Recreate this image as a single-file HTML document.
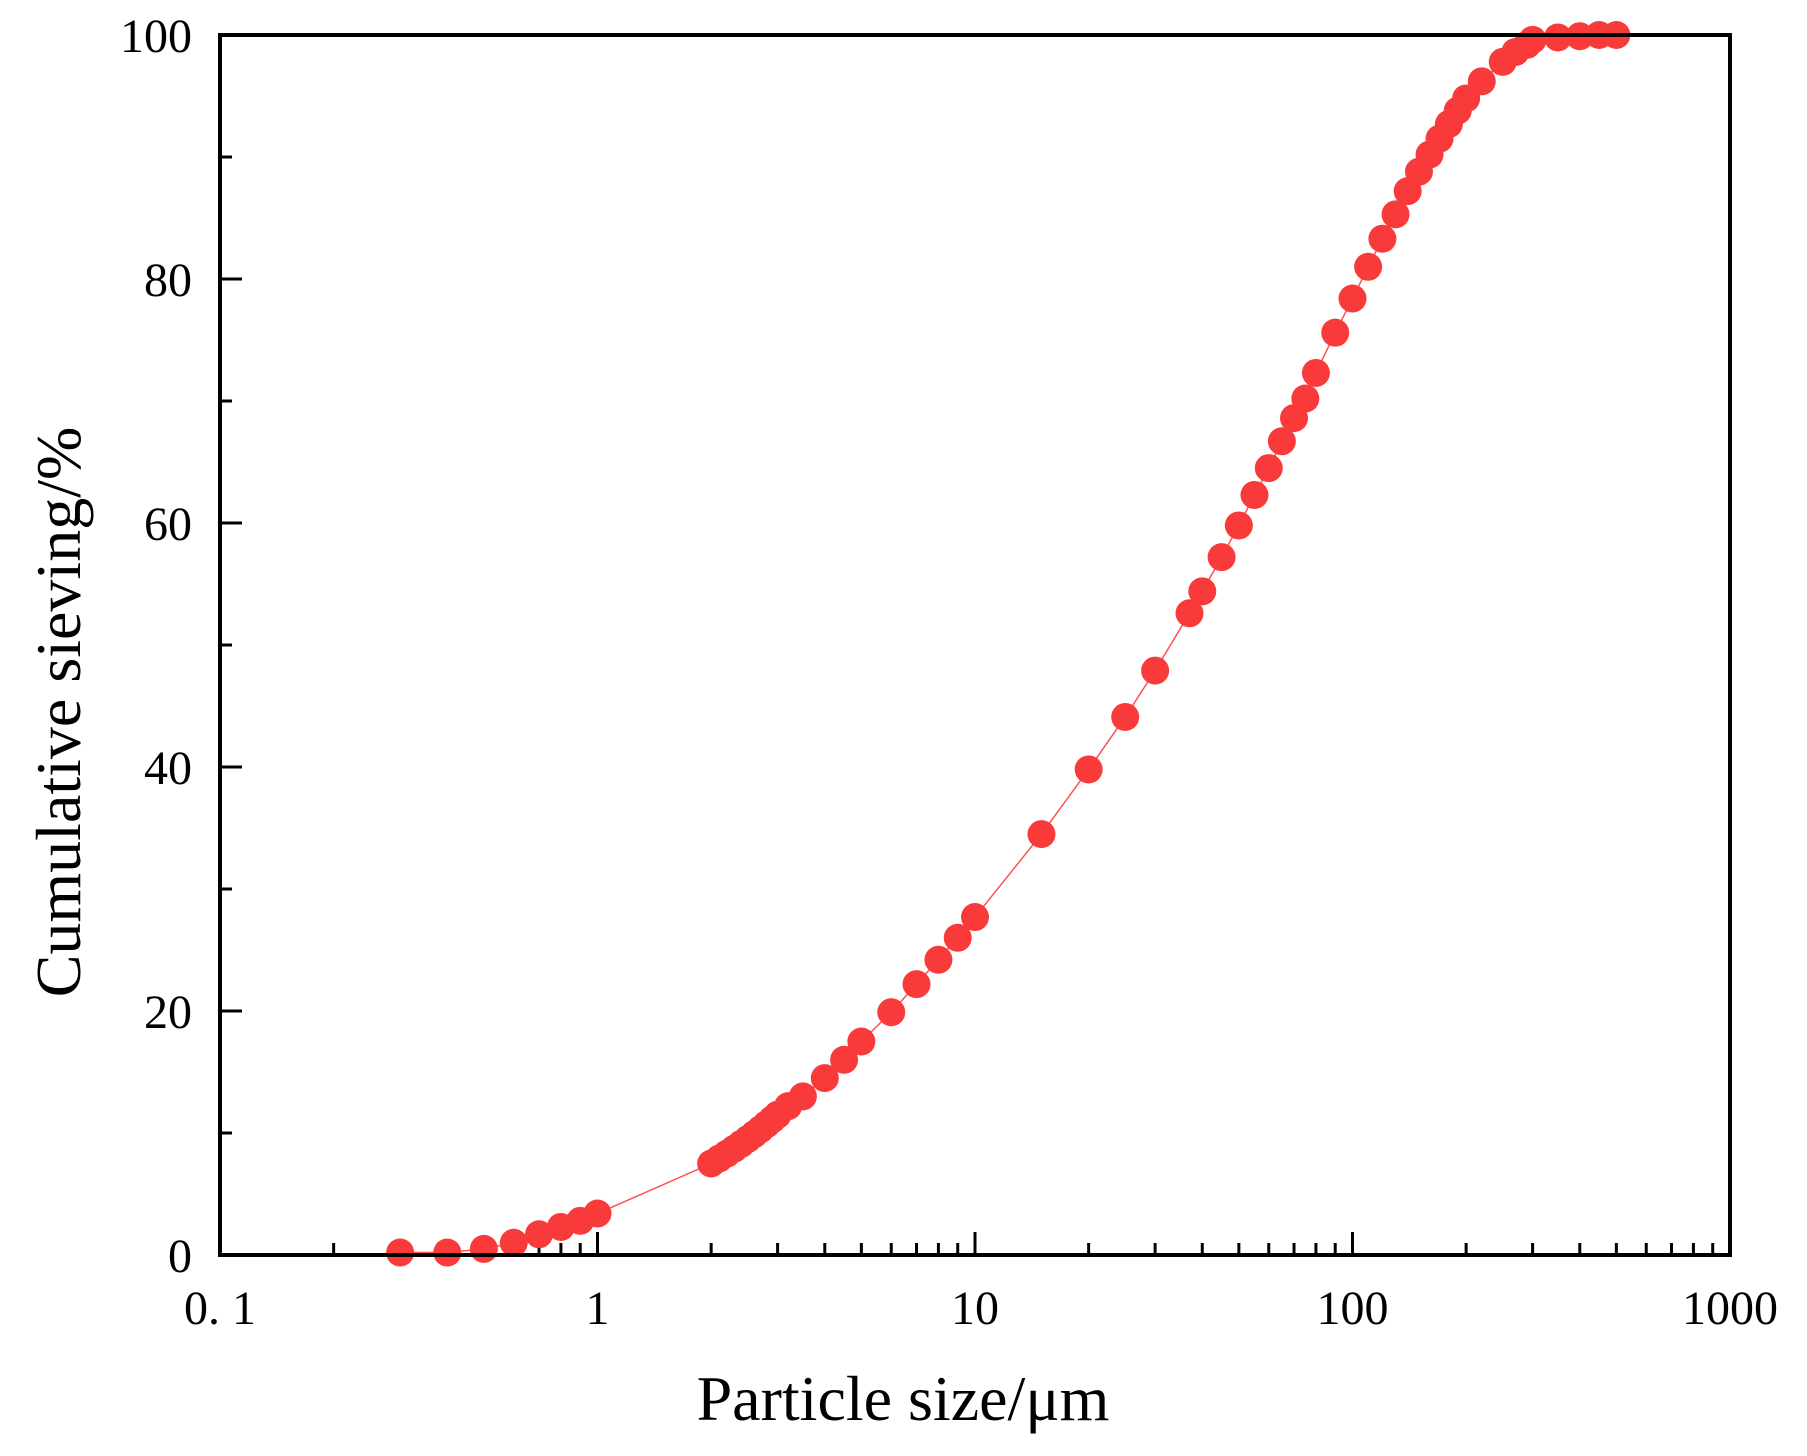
<!DOCTYPE html>
<html><head><meta charset="utf-8"><style>
html,body{margin:0;padding:0;background:#fff;}
svg{display:block;}
text{font-family:"Liberation Serif","Noto Serif CJK SC",serif;fill:#000;}
</style></head><body>
<svg id="chart" width="1807" height="1456" viewBox="0 0 1807 1456">
<g id="ticks"></g>
<g id="series"></g>
<rect x="220" y="35" width="1510" height="1220" fill="none" stroke="#000" stroke-width="4"/>
<text x="903" y="1420" font-size="64" text-anchor="middle">Particle size/μm</text>
<text transform="translate(80,712) rotate(-90)" font-size="64" text-anchor="middle">Cumulative sieving/%</text>
</svg>
<script>
const xs = [0.3,0.4,0.5,0.6,0.7,0.8,0.9,1.0,2.0,2.1,2.2,2.3,2.4,2.5,2.6,2.7,2.8,2.9,3.0,3.2,3.5,4,4.5,5,6,7,8,9,10,15,20,25,30,37,40,45,50,55,60,65,70,75,80,90,100,110,120,130,140,150,160,170,180,190,200,220,250,270,290,300,350,400,450,500];
const ys = [0.2,0.2,0.5,1.0,1.7,2.3,2.8,3.4,7.5,7.9,8.3,8.7,9.1,9.5,9.9,10.3,10.7,11.1,11.5,12.2,13.0,14.5,16.0,17.5,19.9,22.2,24.2,26.0,27.7,34.5,39.8,44.1,47.9,52.6,54.4,57.2,59.8,62.3,64.5,66.7,68.6,70.2,72.3,75.6,78.4,81.0,83.3,85.3,87.2,88.8,90.2,91.5,92.7,93.8,94.8,96.2,97.8,98.6,99.2,99.6,99.8,99.9,100,100];
const xTickVals = [0.1,1,10,100,1000];
const xTickLabels = ["0. 1","1","10","100","1000"];
const yTickVals = [0,20,40,60,80,100];
const NS="http://www.w3.org/2000/svg";
const X0=220,X1=1730,Y0=1255,Y1=35;
function sx(v){return X0+(Math.log10(v)+1)/4*(X1-X0);}
function sy(v){return Y0-v/100*(Y0-Y1);}
const tg=document.getElementById('ticks');
function line(g,x1,y1,x2,y2,w,c){const l=document.createElementNS(NS,'line');l.setAttribute('x1',x1);l.setAttribute('y1',y1);l.setAttribute('x2',x2);l.setAttribute('y2',y2);l.setAttribute('stroke',c||'#000');l.setAttribute('stroke-width',w);g.appendChild(l);return l;}
function txt(g,x,y,s,anchor){const t=document.createElementNS(NS,'text');t.setAttribute('x',x);t.setAttribute('y',y);t.setAttribute('font-size','48');t.setAttribute('text-anchor',anchor);t.textContent=s;g.appendChild(t);return t;}
for(let d=-1;d<3;d++){for(let m=2;m<=9;m++){const l=line(tg,sx(m*Math.pow(10,d)),Y0,sx(m*Math.pow(10,d)),Y0-12,3);

}}
xTickVals.forEach((v,i)=>{const l=line(tg,sx(v),Y0,sx(v),Y0-23,3);


const t=txt(tg,sx(v),1324,xTickLabels[i],'middle');

});
for(let v=10;v<100;v+=20){const l=line(tg,X0,sy(v),X0+12,sy(v),3);

}
yTickVals.forEach(v=>{const l=line(tg,X0,sy(v),X0+22,sy(v),3);


const t=txt(tg,192,sy(v)+17,String(v),'end');

});
const sg=document.getElementById('series');
const p=document.createElementNS(NS,'polyline');
p.setAttribute('points',xs.map((x,i)=>sx(x)+','+sy(ys[i])).join(' '));
p.setAttribute('fill','none');p.setAttribute('stroke','#ff5050');p.setAttribute('stroke-width','1.5');


sg.appendChild(p);
xs.forEach((x,i)=>{const c=document.createElementNS(NS,'circle');c.setAttribute('cx',sx(x));c.setAttribute('cy',sy(ys[i]));c.setAttribute('r','14');c.setAttribute('fill','#f83a3a');


sg.appendChild(c);});
</script>
</body></html>
